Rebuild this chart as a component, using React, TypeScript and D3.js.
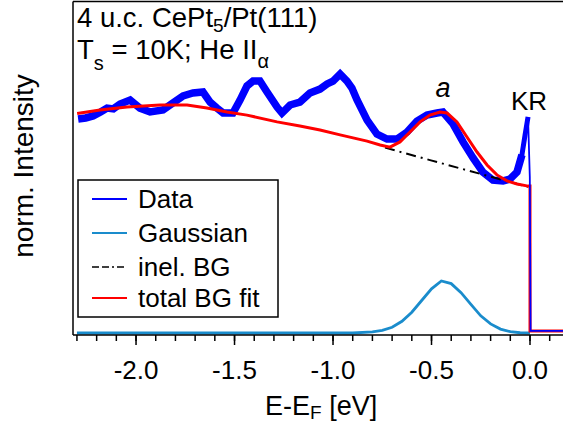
import React from "react";
import * as d3 from "d3";

// ---- data ----
const dataE = [-2.294, -2.256, -2.218, -2.18, -2.147, -2.115, -2.081, -2.03, -1.98, -1.929, -1.863, -1.812, -1.761, -1.711, -1.66, -1.624, -1.589, -1.558, -1.508, -1.472, -1.437, -1.406, -1.371, -1.335, -1.284, -1.259, -1.218, -1.168, -1.117, -1.066, -1.03, -1.0, -0.964, -0.929, -0.904, -0.878, -0.827, -0.777, -0.726, -0.675, -0.624, -0.574, -0.523, -0.472, -0.442, -0.391, -0.34, -0.289, -0.239, -0.188, -0.137, -0.102, -0.066, -0.041, -0.025, -0.01, -0.001, 0.003, 0.1675];
const dataI = [0.823, 0.827, 0.835, 0.85, 0.865, 0.862, 0.881, 0.896, 0.865, 0.85, 0.858, 0.885, 0.912, 0.923, 0.927, 0.888, 0.865, 0.846, 0.846, 0.896, 0.95, 0.969, 0.969, 0.927, 0.869, 0.846, 0.877, 0.888, 0.923, 0.938, 0.958, 0.969, 0.996, 0.969, 0.942, 0.896, 0.819, 0.765, 0.746, 0.746, 0.773, 0.815, 0.838, 0.846, 0.85, 0.804, 0.735, 0.673, 0.619, 0.588, 0.585, 0.592, 0.619, 0.685, 0.762, 0.831, 0.6, 0.008, 0.008];

const fitE = [-2.299, -2.183, -2.046, -1.878, -1.741, -1.64, -1.538, -1.437, -1.284, -1.168, -1.066, -0.964, -0.827, -0.761, -0.711, -0.66, -0.609, -0.558, -0.508, -0.457, -0.421, -0.371, -0.32, -0.269, -0.218, -0.168, -0.117, -0.066, -0.01, 0.0, 0.0, 0.1675];
const fitI = [0.844, 0.858, 0.869, 0.877, 0.877, 0.865, 0.85, 0.838, 0.812, 0.796, 0.781, 0.762, 0.738, 0.723, 0.715, 0.735, 0.773, 0.812, 0.838, 0.85, 0.846, 0.812, 0.754, 0.696, 0.646, 0.608, 0.585, 0.573, 0.565, 0.565, 0.008, 0.008];

const bgE = [-0.736, -0.508, -0.218, -0.01];
const bgI = [0.713, 0.665, 0.605, 0.562];

const gaussE = [-2.3, -0.9, -0.8, -0.75, -0.7, -0.65, -0.6, -0.55, -0.5, -0.45, -0.4, -0.35, -0.3, -0.25, -0.2, -0.15, -0.1, -0.05, 0.0];
const gaussI = [0, 0, 0.004, 0.01, 0.022, 0.045, 0.08, 0.125, 0.17, 0.2, 0.19, 0.155, 0.11, 0.066, 0.035, 0.015, 0.005, 0.001, 0];

const majorTicks = [-2.0, -1.5, -1.0, -0.5, 0.0];
const tickLabels = ["-2.0", "-1.5", "-1.0", "-0.5", "0.0"];
const minorTicks = d3.range(-23, 2).map((d) => d / 10);

const legendLabels = ["Data", "Gaussian", "inel. BG", "total BG fit"];

const FONT = "'Liberation Sans', Arial, Helvetica, sans-serif";

export default function App() {
  const W = 563, H = 427;
  const left = 73, right = 563, top = 1.5, bottom = 335;
  const x = d3.scaleLinear().domain([-2.32, 0.1675]).range([left, right]);
  const y = d3.scaleLinear().domain([0, 1]).range([333, 73]);

  const line = d3
    .line<[number, number]>()
    .x((d) => x(d[0]))
    .y((d) => y(d[1]));

  const zip = (a: number[], b: number[]) => a.map((v, i) => [v, b[i]] as [number, number]);
  const data = zip(dataE, dataI);
  const mainEnd = dataE.findIndex((e) => e > -0.041);
  const dataMain = data.slice(0, mainEnd);
  const spikeStart = dataE.findIndex((e) => e >= -0.066);
  const dataSpike = data.slice(spikeStart, dataE.findIndex((e) => e >= -0.01) + 1);
  const tailStart = dataE.findIndex((e) => e >= -0.01);
  const dataTail = data.slice(tailStart);
  const fit = zip(fitE, fitI);
  const bg = zip(bgE, bgI);
  const gauss = zip(gaussE, gaussI);

  const legendColors = ["#0000ff", "#1a8ccc", "#000000", "#ff0000"];
  const legendY = [199, 233, 267, 298];

  return (
    <svg
      width={W}
      height={H}
      style={{ position: "absolute", left: 0, top: 0, background: "#fff" }}
      fontFamily={FONT}
    >
      <rect x={0} y={0} width={W} height={H} fill="#fff" />
      <defs>
        <clipPath id="plotclip">
          <rect x={left} y={top} width={right - left} height={bottom - top} />
        </clipPath>
      </defs>

      <g clipPath="url(#plotclip)">
        <path d={line(gauss) || ""} fill="none" stroke="#1a8ccc" strokeWidth={2.8} />
        <path d={line(dataMain) || ""} fill="none" stroke="#0000ff" strokeWidth={7.5} strokeLinejoin="miter" />
        <path d={line(dataSpike) || ""} fill="none" stroke="#0000ff" strokeWidth={5} strokeLinejoin="round" />
        <path d={line(bg) || ""} fill="none" stroke="#000" strokeWidth={2} strokeDasharray="10,5,2,5" />
        <path d={line(fit) || ""} fill="none" stroke="#ff0000" strokeWidth={3} />
        <path d={line(dataTail) || ""} fill="none" stroke="#0000ff" strokeWidth={1.8} />
      </g>

      {/* frame */}
      <line x1={left} x2={left} y1={top} y2={bottom} stroke="#000" strokeWidth={1.5} />
      <line x1={left} x2={right} y1={top} y2={top} stroke="#000" strokeWidth={1.5} />
      <line x1={left} x2={right} y1={bottom} y2={bottom} stroke="#000" strokeWidth={1.5} />

      {/* ticks */}
      {minorTicks.map((t) => (
        <line key={"m" + t} x1={x(t)} x2={x(t)} y1={bottom} y2={bottom + 6} stroke="#000" strokeWidth={1.5} />
      ))}
      {majorTicks.map((t, i) => (
        <g key={"M" + t}>
          <line x1={x(t)} x2={x(t)} y1={bottom} y2={bottom + 10} stroke="#000" strokeWidth={1.5} />
          <text x={x(t)} y={379} textAnchor="middle" fontSize={26} fill="#000">
            {tickLabels[i]}
          </text>
        </g>
      ))}

      {/* axis titles */}
      <text x={265} y={415} fontSize={27} fill="#000">
        E-E<tspan fontSize={19} dy={4}>F</tspan>
        <tspan dy={-4}> [eV]</tspan>
      </text>
      <text
        transform="translate(33,166) rotate(-90)"
        textAnchor="middle"
        fontSize={28}
        fill="#000"
      >
        norm. Intensity
      </text>

      {/* annotations */}
      <text x={77} y={27} fontSize={27.5} fill="#000">
        4 u.c. CePt<tspan fontSize={19} dy={5}>5</tspan>
        <tspan dy={-5}>/Pt(111)</tspan>
      </text>
      <text x={77} y={59} fontSize={27.5} fill="#000">
        T<tspan fontSize={20} dy={11}>s</tspan>
        <tspan dy={-11}> = 10K; He II</tspan>
        <tspan fontSize={20} dy={9}>α</tspan>
      </text>
      <text x={443} y={97} fontSize={27} fontStyle="italic" textAnchor="middle" fill="#000">
        a
      </text>
      <text x={529} y={110} fontSize={26} textAnchor="middle" fill="#000">
        KR
      </text>

      {/* legend */}
      <rect x={78} y={180} width={200} height={137} fill="#fff" stroke="#000" strokeWidth={1.5} />
      {legendLabels.map((lab, i) => (
        <g key={lab}>
          <line
            x1={92}
            x2={127}
            y1={legendY[i]}
            y2={legendY[i]}
            stroke={legendColors[i]}
            strokeWidth={i === 2 ? 1.5 : 2}
            strokeDasharray={i === 2 ? "7,3,7,3,2,3" : undefined}
          />
          <text x={138} y={legendY[i] + 9} fontSize={26} fill="#000">
            {lab}
          </text>
        </g>
      ))}
    </svg>
  );
}
